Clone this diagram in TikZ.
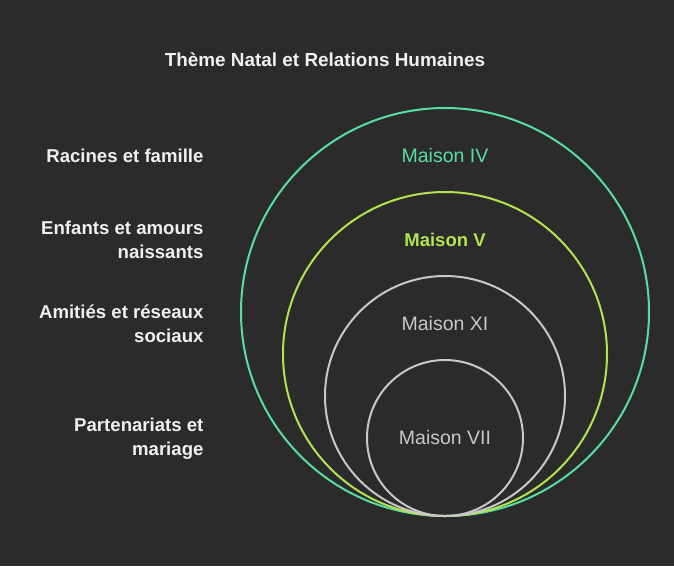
\documentclass[tikz,border=0pt]{standalone}
\usepackage{fontspec}
\setmainfont{Liberation Sans}
\usepackage{xcolor}
\usepackage{tikz}
\usetikzlibrary{positioning}
\definecolor{bgdark}{RGB}{43,43,43}
\definecolor{mintgreen}{RGB}{88,222,160}
\definecolor{limegreen}{RGB}{178,228,80}
\definecolor{ringgray}{RGB}{200,200,198}
\definecolor{textwhite}{RGB}{240,240,240}

\begin{document}
\begin{tikzpicture}[
  x=1pt, y=-1pt,
  font=\fontsize{19}{24}\selectfont,
  ring/.style={circle, draw, line width=2pt, inner sep=0pt},
  lbl/.style={text=textwhite, font=\fontsize{18.6}{24}\selectfont\bfseries, align=right, anchor=east},
  house/.style={font=\fontsize{19.5}{24}\selectfont}
]
\useasboundingbox (0,0) rectangle (674,566);
\fill[bgdark] (0,0) rectangle (674,566);

% title
\node[text=textwhite, font=\fontsize{18.9}{24}\selectfont\bfseries] (title) at (325,60) {Thème Natal et Relations Humaines};

% rings, all touching at the bottom
\node[ring, draw=mintgreen, minimum size=408pt] (iv) at (445,312) {};
\node[ring, draw=limegreen, minimum size=324pt] (v) at (445,354) {};
\node[ring, draw=ringgray, minimum size=240pt] (xi) at (445,396) {};
\node[ring, draw=ringgray, minimum size=156pt] (vii) at (445,438) {};

\node[house, text=mintgreen] (tiv) at (445,156) {Maison IV};
\node[house, text=limegreen, font=\fontsize{18.5}{24}\selectfont\bfseries] (tv) at (445,240) {Maison V};
\node[house, text=ringgray] (txi) at (445,324) {Maison XI};
\node[house, text=ringgray] (tvii) at (445,438) {Maison VII};

% left side labels
\node[lbl] (racines) at (207,156) {Racines et famille};
\node[lbl] (enfants) at (207,240) {Enfants et amours\\naissants};
\node[lbl] (amities) at (207,324) {Amitiés et réseaux\\sociaux};
\node[lbl] (mariage) at (207,439) {Partenariats et\\mariage};
\end{tikzpicture}
\end{document}
